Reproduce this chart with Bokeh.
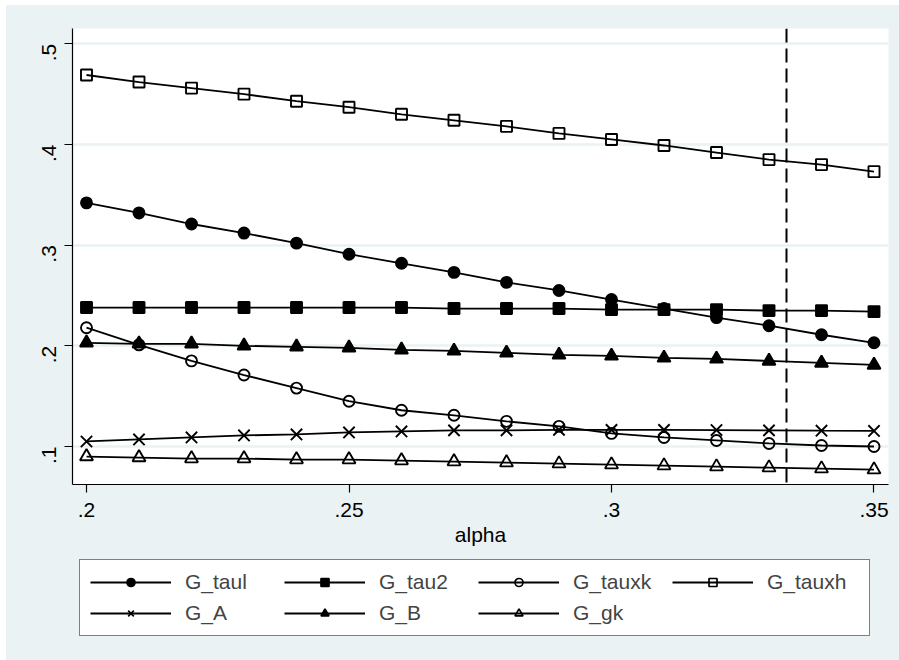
import math
from bokeh.plotting import figure
from bokeh.models import (Range1d, FixedTicker, Span, Legend, LegendItem,
                          ColumnDataSource, Spacer)
from bokeh.layouts import column, row
from bokeh.embed import file_html
from bokeh.resources import INLINE

# ---------------- data ----------------
alpha = [0.20, 0.21, 0.22, 0.23, 0.24, 0.25, 0.26, 0.27,
         0.28, 0.29, 0.30, 0.31, 0.32, 0.33, 0.34, 0.35]
G_taul = [0.342, 0.332, 0.321, 0.312, 0.302, 0.291, 0.282, 0.273,
          0.263, 0.255, 0.246, 0.237, 0.228, 0.220, 0.211, 0.203]
G_tau2 = [0.238, 0.238, 0.238, 0.238, 0.238, 0.238, 0.238, 0.237,
          0.237, 0.237, 0.236, 0.236, 0.236, 0.235, 0.235, 0.234]
G_tauxk = [0.218, 0.201, 0.185, 0.171, 0.158, 0.145, 0.136, 0.131,
           0.125, 0.120, 0.113, 0.109, 0.106, 0.103, 0.101, 0.100]
G_tauxh = [0.469, 0.462, 0.456, 0.450, 0.443, 0.437, 0.430, 0.424,
           0.418, 0.411, 0.405, 0.399, 0.392, 0.385, 0.380, 0.373]
G_A = [0.105, 0.107, 0.109, 0.111, 0.112, 0.114, 0.115, 0.116,
       0.116, 0.1165, 0.1165, 0.1165, 0.1163, 0.116, 0.1157, 0.1155]
G_B = [0.203, 0.202, 0.202, 0.200, 0.199, 0.198, 0.196, 0.195,
       0.193, 0.191, 0.190, 0.188, 0.187, 0.185, 0.183, 0.181]
G_gk = [0.090, 0.089, 0.088, 0.088, 0.087, 0.087, 0.086, 0.085,
        0.084, 0.083, 0.082, 0.081, 0.080, 0.079, 0.078, 0.077]

alpha_ref = 1 / 3

x_ticks = [0.2, 0.25, 0.3, 0.35]
x_tick_labels = [".2", ".25", ".3", ".35"]
y_ticks = [0.1, 0.2, 0.3, 0.4, 0.5]
y_tick_labels = [".1", ".2", ".3", ".4", ".5"]

series_names = ["G_taul", "G_tau2", "G_tauxk", "G_tauxh", "G_A", "G_B", "G_gk"]
series_values = [G_taul, G_tau2, G_tauxk, G_tauxh, G_A, G_B, G_gk]

# ---------------- styles ----------------
BG = "#EAF2F3"
FONT = "Liberation Sans"
FS = "21px"
styles = {
    "G_taul": dict(marker="circle", size=11, fill_color="black", fill_alpha=1.0),
    "G_tau2": dict(marker="square", size=11, fill_color="black", fill_alpha=1.0),
    "G_tauxk": dict(marker="circle", size=11, fill_color="white", fill_alpha=0.0),
    "G_tauxh": dict(marker="square", size=11, fill_color="white", fill_alpha=0.0),
    "G_A": dict(marker="x", size=16, fill_color="black", fill_alpha=0.0),
    "G_B": dict(marker="triangle", size=13, fill_color="black", fill_alpha=1.0),
    "G_gk": dict(marker="triangle", size=13, fill_color="white", fill_alpha=0.0),
}
legend_sizes = {"G_taul": 8, "G_tau2": 9, "G_tauxk": 7, "G_tauxh": 8,
                "G_A": 13, "G_B": 10, "G_gk": 10}

# ---------------- main plot ----------------
p = figure(width=893, height=551, output_backend="svg", toolbar_location=None,
           x_range=Range1d(0.197333, 0.352762), y_range=Range1d(0.06225, 0.5152),
           min_border_left=66, min_border_right=11, min_border_top=23,
           min_border_bottom=72)
p.background_fill_color = "white"
p.border_fill_color = BG
p.outline_line_color = None

p.xaxis.ticker = FixedTicker(ticks=x_ticks)
p.xaxis.major_label_overrides = dict(zip(x_ticks, x_tick_labels))
p.yaxis.ticker = FixedTicker(ticks=y_ticks)
p.yaxis.major_label_overrides = dict(zip(y_ticks, y_tick_labels))
p.yaxis.major_label_orientation = math.pi / 2
p.xaxis.axis_label = "alpha"
for ax in (p.xaxis, p.yaxis):
    ax.axis_line_color = "black"
    ax.axis_line_width = 1.2
    ax.major_tick_line_color = "black"
    ax.major_tick_line_width = 1.2
    ax.major_tick_out = 8
    ax.major_tick_in = 0
    ax.minor_tick_line_color = None
    ax.major_label_text_font = FONT
    ax.major_label_text_font_size = FS
    ax.major_label_text_color = "black"
    ax.axis_label_text_font = FONT
    ax.axis_label_text_font_size = FS
    ax.axis_label_text_font_style = "normal"
    ax.axis_label_text_color = "black"
p.xaxis.major_label_standoff = 10
p.yaxis.major_label_standoff = 15
p.xaxis.axis_label_standoff = 3

p.xgrid.grid_line_color = None
p.ygrid.grid_line_color = BG
p.ygrid.grid_line_width = 2.5

for name, vals in zip(series_names, series_values):
    st = styles[name]
    src = ColumnDataSource(dict(x=alpha, y=vals))
    p.line("x", "y", source=src, line_color="black", line_width=1.8)
    p.scatter("x", "y", source=src, marker=st["marker"], size=st["size"],
              line_color="black", line_width=1.9,
              fill_color=st["fill_color"], fill_alpha=st["fill_alpha"])

p.add_layout(Span(location=alpha_ref, dimension="height", line_color="black",
                  line_width=2, line_dash="14 6"))

# ---------------- legend panel ----------------
p2 = figure(width=893, height=104, output_backend="svg", toolbar_location=None,
            x_range=Range1d(0, 1), y_range=Range1d(0, 1),
            min_border_left=0, min_border_right=0, min_border_top=0,
            min_border_bottom=0)
p2.axis.visible = False
p2.grid.visible = False
p2.background_fill_color = BG
p2.border_fill_color = BG
p2.outline_line_color = None

items = []
for name in series_names:
    st = styles[name]
    lsrc = ColumnDataSource(dict(x=[float("nan")], y=[float("nan")]))
    lr1 = p2.line("x", "y", source=lsrc, line_color="black", line_width=1.8)
    lr2 = p2.scatter("x", "y", source=lsrc, marker=st["marker"],
                     size=legend_sizes[name], line_color="black", line_width=1.7,
                     fill_color=st["fill_color"], fill_alpha=st["fill_alpha"])
    items.append(LegendItem(label=name, renderers=[lr1, lr2]))

legend = Legend(items=items, orientation="horizontal", ncols=4,
                location=(7, 24),
                glyph_width=81, glyph_height=20, label_width=92, label_height=20,
                label_standoff=14, spacing=7, padding=10, margin=0,
                label_text_font=FONT, label_text_font_size=FS,
                border_line_color="black", border_line_width=1.2,
                background_fill_color="white", background_fill_alpha=1.0,
                click_policy="none")
p2.add_layout(legend, "center")

inner = column(p, p2, spacing=0, styles={"background-color": BG})
layout = column(Spacer(height=5), row(Spacer(width=6), inner))
open("out.html", "w").write(file_html(layout, INLINE))
